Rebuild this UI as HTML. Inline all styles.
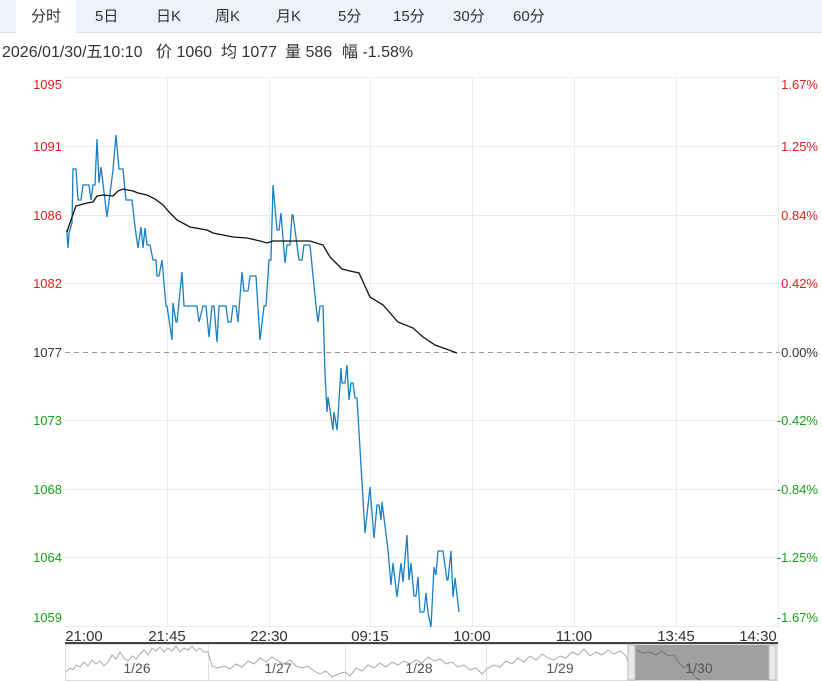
<!DOCTYPE html><html><head><meta charset="utf-8"><style>
body{margin:0;width:822px;height:681px;background:#fff;font-family:"Liberation Sans","Noto Sans CJK SC",sans-serif;overflow:hidden;position:relative}
.tabs{position:absolute;left:0;top:0;width:822px;height:32px;background:#eef3fb;border-bottom:1px solid #dde5f0}
.tabs span{position:absolute;top:5px;font-size:15px;color:#333}
.info span{position:absolute;top:38px;font-size:16px;color:#333;white-space:nowrap}
</style></head><body>
<div class="tabs">
<div style="position:absolute;left:16px;top:0;width:60px;height:33px;background:#fff"></div>
<span style="left:31px">分时</span><span style="left:95px">5日</span><span style="left:156px">日K</span><span style="left:215px">周K</span><span style="left:276px">月K</span><span style="left:338px">5分</span><span style="left:393px">15分</span><span style="left:453px">30分</span><span style="left:513px">60分</span>
</div>
<div class="info"><span style="left:2px">2026/01/30/五10:10</span><span style="left:156px">价 1060</span><span style="left:221px">均 1077</span><span style="left:285px">量 586</span><span style="left:342px">幅 -1.58%</span></div>
<svg width="822" height="681" style="position:absolute;left:0;top:0" font-family="Liberation Sans, sans-serif" font-size="13">
<g stroke="#ebebeb" stroke-width="1">
<line x1="65" y1="77.5" x2="780" y2="77.5"/><line x1="65" y1="146.5" x2="780" y2="146.5"/><line x1="65" y1="215.5" x2="780" y2="215.5"/><line x1="65" y1="283.5" x2="780" y2="283.5"/><line x1="65" y1="420.5" x2="780" y2="420.5"/><line x1="65" y1="489.5" x2="780" y2="489.5"/><line x1="65" y1="557.5" x2="780" y2="557.5"/><line x1="65" y1="626.5" x2="780" y2="626.5"/>
<line x1="167.5" y1="77" x2="167.5" y2="627"/><line x1="269.5" y1="77" x2="269.5" y2="627"/><line x1="370.5" y1="77" x2="370.5" y2="627"/><line x1="472.5" y1="77" x2="472.5" y2="627"/><line x1="574.5" y1="77" x2="574.5" y2="627"/><line x1="676.5" y1="77" x2="676.5" y2="627"/><line x1="778.5" y1="77" x2="778.5" y2="627"/>
</g>
<line x1="65" y1="352.5" x2="780" y2="352.5" stroke="#999" stroke-dasharray="5,4"/>
<g text-anchor="end">
<text x="62" y="89" fill="#e02020">1095</text><text x="62" y="151" fill="#e02020">1091</text><text x="62" y="220" fill="#e02020">1086</text><text x="62" y="288" fill="#e02020">1082</text><text x="62" y="357" fill="#333">1077</text><text x="62" y="425" fill="#1aa01a">1073</text><text x="62" y="494" fill="#1aa01a">1068</text><text x="62" y="562" fill="#1aa01a">1064</text><text x="62" y="622" fill="#1aa01a">1059</text>
<text x="818" y="89" fill="#e02020">1.67%</text><text x="818" y="151" fill="#e02020">1.25%</text><text x="818" y="220" fill="#e02020">0.84%</text><text x="818" y="288" fill="#e02020">0.42%</text><text x="818" y="357" fill="#333">0.00%</text><text x="818" y="425" fill="#1aa01a">-0.42%</text><text x="818" y="494" fill="#1aa01a">-0.84%</text><text x="818" y="562" fill="#1aa01a">-1.25%</text><text x="818" y="622" fill="#1aa01a">-1.67%</text>
</g>
<polyline fill="none" stroke="#1a7fc4" stroke-width="1.3" points="66.7,230 68,248 69,233 72,223 73,169 76,169 78,200 81,200 83,185 89,185 91,200 93,185 95,185 97,139 99,183 101,167 107,217 113,170 116,135 119,169 123,169 126,200 132,200 135,227 138,248 141,227 143,248 145,228 147,245 150,245 153,260 156,260 157,276 159,276 162,260 166,306 167,306 172,340 173,303 176,322 177,322 182,272 184,306 197,306 199,322 203,306 206,306 209,337 212,306 214,306 217,342 219,306 226,306 228,322 231,322 233,306 236,306 238,322 242,272 244,291 248,291 250,276 256,276 260,340 264,306 266,306 269,260 271,260 273,185 277,230 279,230 281,213 285,263 287,245 290,245 292,215 293,215 299,260 302,260 304,245 310,245 316,306 318,322 320,306 323,306 325,373 327,412 328,397 333,430 334,412 337,430 338,417 341,368 342,383 345,383 347,365 349,400 351,383 353,383 355,398 357,398 365,533 370,487 374,538 377,505 379,505 381,520 382,502 388,550 391,585 393,563 397,597 401,563 403,582 407,535 409,580 411,563 414,596 416,596 418,577 420,612 424,612 426,593 428,613 431,627 434,567 436,575 438,551 443,551 447,580 448,580 451,551 453,597 455,578 459,612"/>
<polyline fill="none" stroke="#111" stroke-width="1.3" points="67,232 72,217 76,206 87,203 93,202 97,196 103,195 113,196 118,191 123,189 133,191 138,193 147,195 155,199 163,205 170,213 177,220 190,227 207,230 213,233 233,237 247,238 260,241 267,243 273,241 310,241 323,245 330,257 342,269 350,271 359,273 370,297 383,305 398,322 413,328 423,337 435,345 457,353"/>
<g fill="#333" font-size="15" text-anchor="middle">
<text x="84" y="641">21:00</text><text x="167" y="641">21:45</text><text x="269" y="641">22:30</text><text x="370" y="641">09:15</text><text x="472" y="641">10:00</text><text x="574" y="641">11:00</text><text x="676" y="641">13:45</text><text x="758" y="641">14:30</text>
</g>
<rect x="65" y="642" width="713" height="2.5" fill="#444"/>
<rect x="65.5" y="644.5" width="712" height="36" fill="#fff" stroke="#ddd"/>
<g stroke="#e4e4e4"><line x1="208.5" y1="645" x2="208.5" y2="681"/><line x1="345.5" y1="645" x2="345.5" y2="681"/><line x1="486.5" y1="645" x2="486.5" y2="681"/></g>
<polyline fill="none" stroke="#aaa" stroke-width="1" points="66,672 70,668 73,670 76,665 80,667 84,662 88,666 92,660 96,664 100,661 104,666 108,662 112,655 116,659 120,652 124,658 128,661 132,656 136,659 140,654 144,650 148,655 152,648 156,651 160,647 164,652 168,648 172,651 176,646 180,652 184,648 188,650 192,646 196,651 200,648 204,652 208,652 212,666 218,668 224,666 230,669 236,664 242,667 248,661 254,664 260,658 266,662 272,657 278,661 284,664 290,660 296,666 302,668 308,666 314,671 320,674 326,671 332,677 338,674 345,672 350,676 356,668 362,671 368,665 374,668 380,663 386,667 392,662 398,665 404,661 410,664 416,660 422,663 428,657 434,661 440,659 446,664 452,662 458,667 464,665 470,670 476,668 482,674 488,668 494,665 500,667 506,661 512,664 518,658 524,662 530,656 536,660 542,654 548,658 554,660 560,656 566,658 572,652 578,655 584,649 590,656 596,652 602,655 608,650 614,654 620,651 626,656 628,662"/>
<rect x="629" y="645" width="141" height="35" fill="#a0a0a0"/>
<polyline fill="none" stroke="#777" points="637,650 643,653 650,652 656,655 662,651 668,656 674,655 680,664 684,668 688,665 692,673 696,678 700,680"/>
<rect x="628" y="645" width="7" height="35" fill="#e8e8e8" stroke="#bbb"/><rect x="769" y="645" width="7" height="35" fill="#e8e8e8" stroke="#bbb"/>
<g fill="#555" font-size="14" text-anchor="middle"><text x="137" y="673">1/26</text><text x="278" y="673">1/27</text><text x="419" y="673">1/28</text><text x="560" y="673">1/29</text><text x="699" y="673">1/30</text></g>
</svg>
</body></html>
